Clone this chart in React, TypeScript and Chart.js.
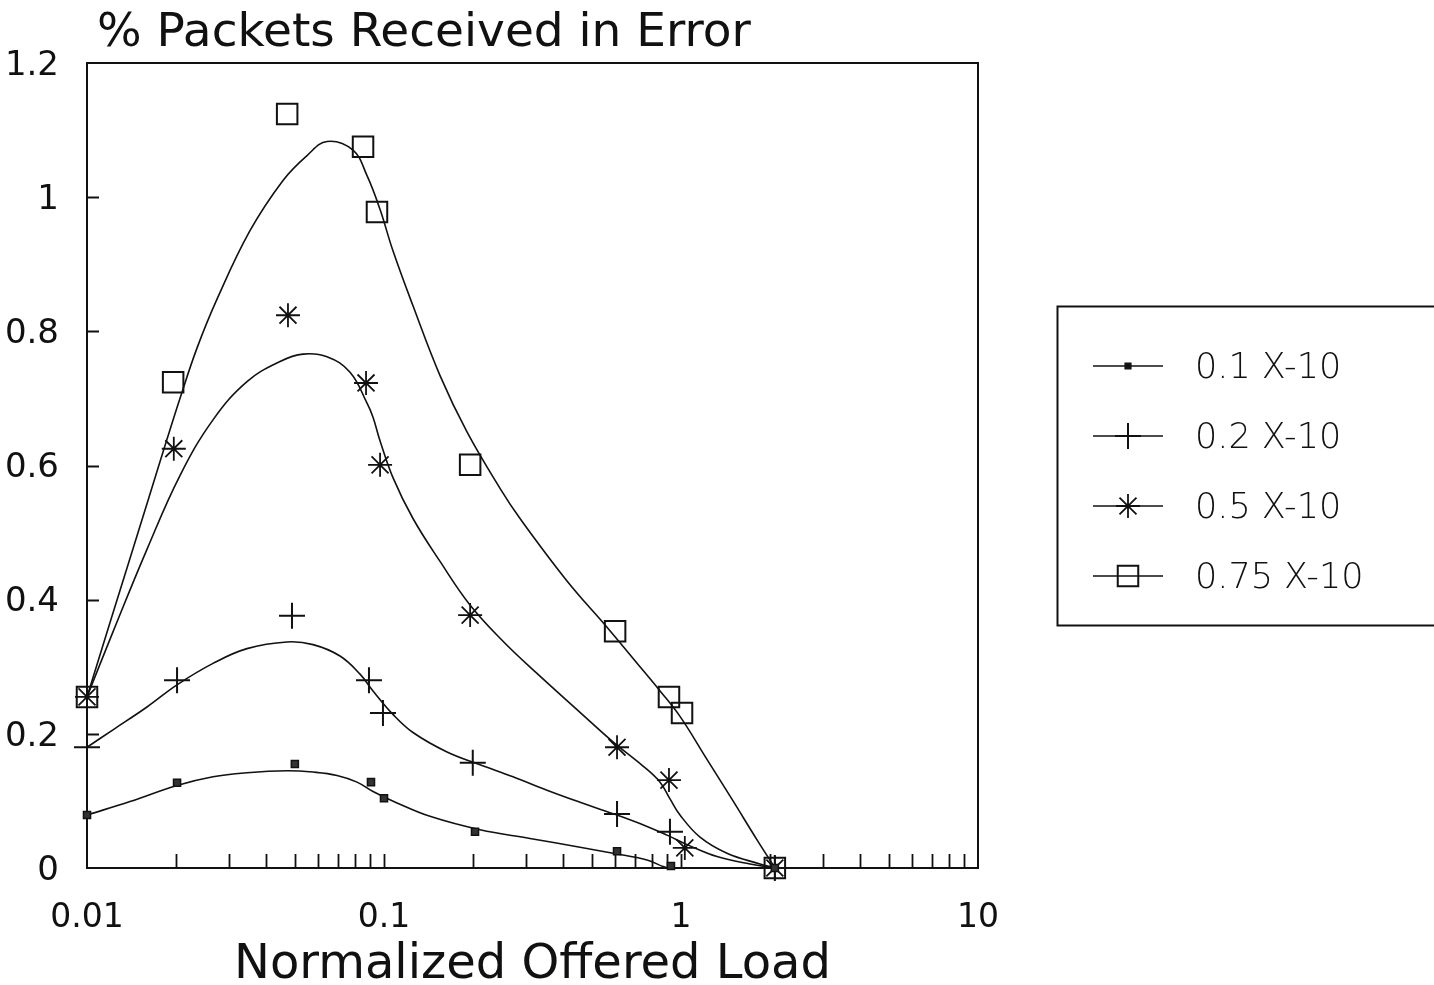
import React, { useEffect, useRef } from 'react';
import { Chart, registerables } from 'chart.js';
import { drawPoint } from 'chart.js/helpers';

Chart.register(...registerables);

const FONT = '"DejaVu Sans", "Liberation Sans", sans-serif';
const INK = '#111';

const TITLE = '% Packets Received in Error';
const X_TITLE = 'Normalized Offered Load';
const X_TICKS = [0.01, 0.1, 1, 10];
const X_TICK_LABELS = ['0.01', '0.1', '1', '10'];
const Y_TICKS = [0, 0.2, 0.4, 0.6, 0.8, 1, 1.2];
const Y_TICK_LABELS = ['0', '0.2', '0.4', '0.6', '0.8', '1', '1.2'];
const Y_INNER_TICKS = [0.2, 0.4, 0.6, 0.8, 1];
const SERIES_NAMES = ['0.1 X-10', '0.2 X-10', '0.5 X-10', '0.75 X-10'];

// measured points (markers)
const S01_X = [0.01, 0.0201, 0.0501, 0.0904, 0.1, 0.2025, 0.609, 0.925, 2.07];
const S01_Y = [0.079, 0.127, 0.155, 0.128, 0.104, 0.054, 0.025, 0.003, 0];
const S02_X = [0.01, 0.0201, 0.049, 0.089, 0.0992, 0.199, 0.609, 0.918, 2.07];
const S02_Y = [0.18, 0.28, 0.376, 0.28, 0.231, 0.157, 0.0805, 0.054, 0];
const S05_X = [0.01, 0.0196, 0.0475, 0.087, 0.097, 0.195, 0.609, 0.911, 1.03, 2.07];
const S05_Y = [0.255, 0.625, 0.824, 0.723, 0.601, 0.377, 0.18, 0.131, 0.03, 0];
const S075_X = [0.01, 0.0195, 0.0472, 0.085, 0.0947, 0.195, 0.6, 0.911, 1.008, 2.07];
const S075_Y = [0.255, 0.724, 1.124, 1.075, 0.978, 0.601, 0.353, 0.255, 0.231, 0];

// fitted curves
const C01_X = [0.01, 0.01396, 0.02009, 0.02656, 0.03457, 0.04714, 0.05768, 0.06947, 0.08111, 0.09183, 0.1106, 0.1428, 0.2105, 0.3101, 0.4571, 0.5902, 0.7684, 0.9184, 2.073];
const C01_Y = [0.079, 0.099, 0.123, 0.136, 0.142, 0.145, 0.143, 0.138, 0.128, 0.114, 0.097, 0.077, 0.057, 0.044, 0.031, 0.022, 0.012, 0.0, 0.0];
const C02_X = [0.01, 0.01223, 0.01592, 0.02009, 0.02656, 0.03457, 0.04714, 0.05768, 0.07109, 0.08304, 0.09183, 0.1072, 0.1252, 0.163, 0.2105, 0.2719, 0.3538, 0.4571, 0.5902, 0.7684, 0.8975, 1.072, 1.322, 1.708, 2.073];
const C02_Y = [0.18, 0.206, 0.24, 0.273, 0.305, 0.327, 0.337, 0.333, 0.316, 0.289, 0.264, 0.229, 0.202, 0.173, 0.154, 0.136, 0.116, 0.098, 0.081, 0.062, 0.049, 0.033, 0.017, 0.006, 0.0];
const C05_X = [0.01, 0.01223, 0.01592, 0.02056, 0.02656, 0.03457, 0.04465, 0.05337, 0.0643, 0.07684, 0.08767, 0.09183, 0.09694, 0.1072, 0.1252, 0.1544, 0.1948, 0.2516, 0.3274, 0.4571, 0.5902, 0.745, 0.8501, 0.9184, 0.9922, 1.159, 1.428, 1.845, 2.073];
const C05_Y = [0.255, 0.352, 0.475, 0.585, 0.668, 0.725, 0.755, 0.766, 0.762, 0.739, 0.693, 0.672, 0.637, 0.582, 0.521, 0.457, 0.392, 0.338, 0.29, 0.232, 0.188, 0.152, 0.128, 0.103, 0.079, 0.046, 0.022, 0.006, 0.0];
const C075_X = [0.01, 0.01223, 0.01592, 0.01859, 0.02056, 0.02346, 0.0274, 0.03538, 0.04571, 0.05505, 0.0643, 0.07865, 0.08767, 0.09694, 0.1072, 0.1252, 0.1544, 0.1903, 0.2458, 0.2871, 0.4132, 0.5634, 0.7278, 0.8501, 0.9922, 1.223, 1.497, 1.803, 2.073];
const C075_Y = [0.255, 0.38, 0.543, 0.639, 0.7, 0.775, 0.848, 0.95, 1.025, 1.062, 1.083, 1.07, 1.032, 0.982, 0.92, 0.838, 0.734, 0.65, 0.566, 0.521, 0.428, 0.359, 0.3, 0.264, 0.226, 0.162, 0.1, 0.042, 0.0];

const zip = (xs: number[], ys: number[]) => xs.map((x, i) => ({ x, y: ys[i] }));

const MARKER_STYLES = [
  { pointStyle: 'rect', radius: 5, bg: '#333', width: 1.5 },
  { pointStyle: 'cross', radius: 13, bg: 'rgba(0,0,0,0)', width: 2 },
  { pointStyle: 'star', radius: 12, bg: 'rgba(0,0,0,0)', width: 1.8 },
  { pointStyle: 'rect', radius: 14.5, bg: 'rgba(0,0,0,0)', width: 2 },
];

const framePlugin = {
  id: 'frame',
  beforeDatasetsDraw(chart: any) {
    const { ctx, chartArea: a, scales } = chart;
    ctx.save();
    ctx.strokeStyle = INK;
    ctx.lineWidth = 2;
    ctx.strokeRect(a.left, a.top, a.right - a.left, a.bottom - a.top);
    ctx.lineWidth = 1.8;
    ctx.beginPath();
    for (const d of [0.01, 0.1, 1]) {
      for (let m = 2; m <= 10; m++) {
        const v = m * d;
        if (v >= 10) continue;
        const px = Math.round(scales.x.getPixelForValue(v)) + 0.5;
        ctx.moveTo(px, a.bottom);
        ctx.lineTo(px, a.bottom - 14);
      }
    }
    for (const v of Y_INNER_TICKS) {
      const py = Math.round(scales.y.getPixelForValue(v)) + 0.5;
      ctx.moveTo(a.left, py);
      ctx.lineTo(a.left + 12, py);
    }
    ctx.stroke();
    ctx.restore();
  },
  afterDraw(chart: any) {
    const { ctx } = chart;
    ctx.save();
    ctx.fillStyle = INK;
    ctx.font = `47px ${FONT}`;
    ctx.textBaseline = 'alphabetic';
    ctx.textAlign = 'left';
    ctx.fillText(TITLE, 97, 46);

    // legend
    ctx.strokeStyle = INK;
    ctx.lineWidth = 2;
    ctx.strokeRect(1057.5, 306.5, 420, 319);
    const rows = [366, 436, 506, 576];
    SERIES_NAMES.forEach((name, i) => {
      const y = rows[i];
      ctx.lineWidth = 1.6;
      ctx.strokeStyle = INK;
      ctx.beginPath();
      ctx.moveTo(1093, y);
      ctx.lineTo(1163, y);
      ctx.stroke();
      const st = MARKER_STYLES[i];
      ctx.fillStyle = i === 0 ? '#111' : 'rgba(0,0,0,0)';
      ctx.lineWidth = st.width;
      drawPoint(ctx, { pointStyle: st.pointStyle, radius: i === 0 ? 4 : st.radius, rotation: 0, borderWidth: st.width }, 1128, y);
      ctx.fillStyle = INK;
      ctx.font = `200 35px ${FONT}`;
      ctx.textBaseline = 'middle';
      ctx.fillText(name, 1195, y + 3);
    });
    ctx.restore();
  },
};

export default function App() {
  const ref = useRef<HTMLCanvasElement | null>(null);
  useEffect(() => {
    if (!ref.current) return;
    const markerSets = [
      zip(S01_X, S01_Y),
      zip(S02_X, S02_Y),
      zip(S05_X, S05_Y),
      zip(S075_X, S075_Y),
    ].map((data, i) => ({
      label: SERIES_NAMES[i],
      data,
      showLine: false,
      pointStyle: MARKER_STYLES[i].pointStyle,
      pointRadius: MARKER_STYLES[i].radius,
      pointBackgroundColor: MARKER_STYLES[i].bg,
      pointBorderColor: INK,
      pointBorderWidth: MARKER_STYLES[i].width,
      clip: false,
    }));
    const curveSets = [
      zip(C01_X, C01_Y),
      zip(C02_X, C02_Y),
      zip(C05_X, C05_Y),
      zip(C075_X, C075_Y),
    ].map((data, i) => ({
      label: SERIES_NAMES[i] + ' fit',
      data,
      showLine: true,
      pointRadius: 0,
      borderColor: INK,
      borderWidth: 1.6,
      tension: 0.4,
      fill: false,
    }));
    const chart = new Chart(ref.current, {
      type: 'scatter',
      data: { datasets: [...markerSets, ...curveSets] as any },
      options: {
        animation: false,
        responsive: false,
        maintainAspectRatio: false,
        events: [],
        layout: { padding: { left: 0, top: 63, right: 456, bottom: 0 } },
        plugins: {
          legend: { display: false },
          title: { display: false },
          tooltip: { enabled: false },
        },
        scales: {
          x: {
            type: 'logarithmic',
            min: 0.01,
            max: 10,
            grid: { display: false },
            border: { display: false },
            afterBuildTicks: (s: any) => {
              s.ticks = X_TICKS.map((v) => ({ value: v }));
            },
            afterFit: (s: any) => {
              s.height = 117;
            },
            ticks: {
              autoSkip: false,
              maxRotation: 0,
              padding: 23,
              color: INK,
              font: { family: FONT, size: 33 },
              callback: (v: any) => {
                const i = X_TICKS.findIndex((t) => Math.abs(t - Number(v)) < t * 1e-6);
                return i >= 0 ? X_TICK_LABELS[i] : '';
              },
            },
            title: {
              display: true,
              text: X_TITLE,
              color: INK,
              font: { family: FONT, size: 48, lineHeight: 0.8 },
              padding: 0,
            },
          },
          y: {
            min: 0,
            max: 1.2,
            grid: { display: false },
            border: { display: false },
            afterBuildTicks: (s: any) => {
              s.ticks = Y_TICKS.map((v) => ({ value: v }));
            },
            afterFit: (s: any) => {
              s.width = 87;
            },
            ticks: {
              autoSkip: false,
              padding: 20,
              labelOffset: 3,
              color: INK,
              font: { family: FONT, size: 34 },
              callback: (v: any) => {
                const i = Y_TICKS.findIndex((t) => Math.abs(t - Number(v)) < 1e-6);
                return i >= 0 ? Y_TICK_LABELS[i] : '';
              },
            },
          },
        },
      } as any,
      plugins: [framePlugin],
    });
    return () => chart.destroy();
  }, []);
  return (
    <div style={{ position: 'fixed', left: 0, top: 0, width: 1434, height: 985, background: '#fff' }}>
      <canvas ref={ref} width={1434} height={985} style={{ display: 'block', width: 1434, height: 985 }} />
    </div>
  );
}
